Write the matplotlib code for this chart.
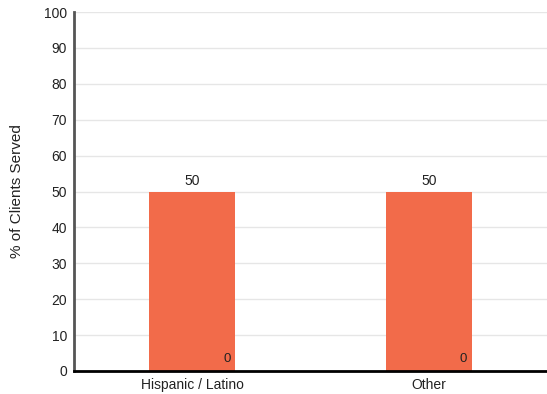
import matplotlib
matplotlib.use("Agg")
import matplotlib.pyplot as plt
import numpy as np

categories = ["Hispanic / Latino", "Other"]
values = [50, 50]
second_values = [0, 0]
yticks = list(range(0, 101, 10))

plt.rcParams['font.family'] = ['Liberation Sans', 'DejaVu Sans']

fig = plt.figure(figsize=(5.47, 3.94), dpi=100)
ax = fig.add_axes([74/547, 1-371/394, 1-74/547, (371-12)/394])

x = np.arange(len(categories))
bar_w = 0.364
bars = ax.bar(x, values, width=bar_w, color="#F26B4A", zorder=3)
for xi, v, v2 in zip(x, values, second_values):
    ax.text(xi, v + 1, f"{v}", ha="center", va="bottom", fontsize=10, color="#222222")
    ax.text(xi + bar_w/2 - 0.02, v2 + 1.6, f"{v2}", ha="right", va="bottom", fontsize=9.5, color="#222222", zorder=4)

ax.set_xlim(-0.5, len(categories) - 0.5)
ax.set_ylim(0, 100)
ax.set_yticks(yticks)
ax.set_xticks(x)
ax.set_xticklabels(categories)
ax.tick_params(axis="both", length=0, labelsize=10, colors="#222222")
ax.tick_params(axis="y", pad=5)
ax.tick_params(axis="x", pad=5)
ax.yaxis.grid(True, color="#e6e6e6", linewidth=1, zorder=0)
ax.set_axisbelow(True)
for s in ["top", "right"]:
    ax.spines[s].set_visible(False)
ax.spines["left"].set_color("#555555")
ax.spines["left"].set_linewidth(2)
ax.spines["bottom"].set_color("#000000")
ax.spines["bottom"].set_linewidth(2)
ax.spines["bottom"].set_zorder(5)
ax.set_ylabel("% of Clients Served", fontsize=11, color="#222222")
ax.yaxis.set_label_coords((24 - 74) / 473, 0.5)

fig.savefig("out.png", dpi=100)
